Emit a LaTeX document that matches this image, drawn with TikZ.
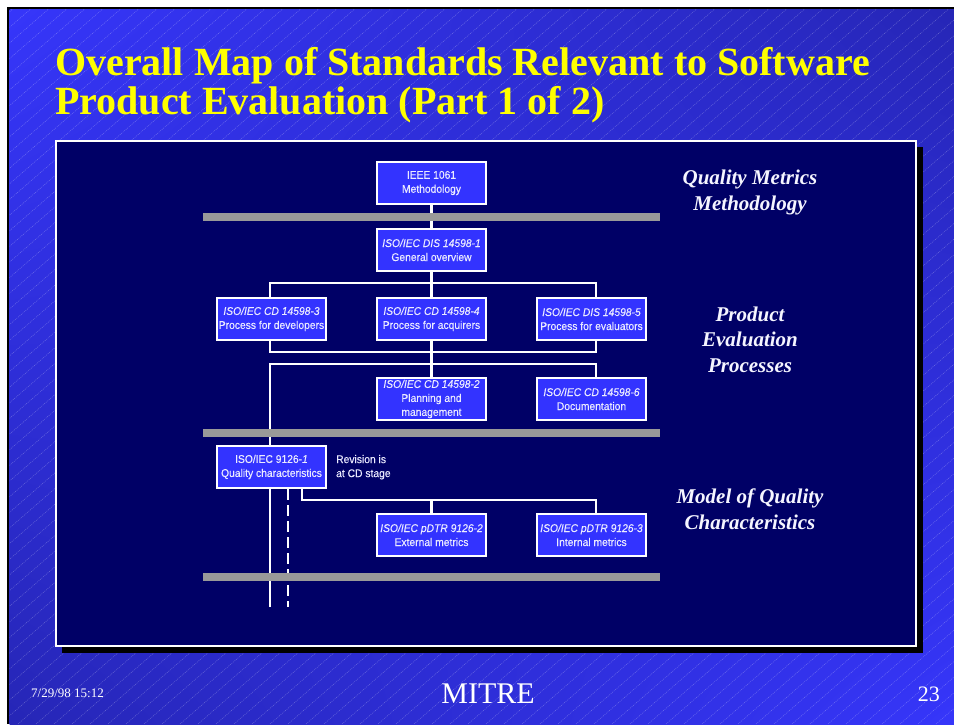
\documentclass[tikz,border=0pt]{standalone}
\usepackage{fontspec}
\setmainfont{Liberation Serif}
\setsansfont{Liberation Sans}
\newfontfamily\boxfont[FakeStretch=0.92, FakeBold=0.25]{Liberation Sans}
\usetikzlibrary{calc,shadings}

\pgfdeclarelayer{back}
\pgfdeclarelayer{wires}
\pgfsetlayers{back,wires,main}

\definecolor{slidenavy}{RGB}{0,0,102}
\definecolor{boxblue}{RGB}{51,51,255}
\definecolor{bargray}{RGB}{153,153,153}
\definecolor{boxtext}{RGB}{235,235,255}
\definecolor{labelwhite}{RGB}{245,245,255}
\definecolor{titleyellow}{RGB}{255,255,0}
\definecolor{bgbright}{RGB}{54,54,250}
\definecolor{bgdark}{RGB}{38,38,182}

\begin{document}
\begin{tikzpicture}[x=1pt, y=-1pt,
	stdbox/.style={draw=white, line width=1.6pt, fill=boxblue, text=boxtext, inner sep=0pt,
		minimum width=109.5pt, minimum height=42.5pt, align=center,
		font=\boxfont\fontsize{11.2}{14}\selectfont},
	note/.style={text=boxtext, align=left, inner sep=0pt, font=\boxfont\fontsize{11.2}{14}\selectfont},
	link/.style={draw=white, line width=2.6pt},
	bar/.style={fill=bargray},
	title/.style={text=titleyellow, inner sep=0pt, font=\bfseries\fontsize{40}{40}\selectfont},
	level/.style={text=labelwhite, align=center, inner sep=0pt, font=\bfseries\itshape\fontsize{21}{25.5}\selectfont},
	foot/.style={text=white, inner sep=0pt},
	hatch/.style={white, opacity=0.3, line width=0.45pt, dash pattern=on 1pt off 1pt}]

	\useasboundingbox (0,0) rectangle (954,724);

	% slide
	\begin{pgfonlayer}{back}
		\fill[white] (0,0) rectangle (954,724);
		\fill[black] (7,7) rectangle (954,724);
		\shade[upper left=bgbright, upper right=bgdark, lower left=bgdark, lower right=bgbright]
		(9.5,9.5) rectangle (954,724);
		\begin{scope}
			\clip (9.5,9.5) rectangle (954,724);
			\foreach \k in {-47,...,53}
				\draw[hatch] (\k*18,724) -- ++(833,-724);
		\end{scope}
		\fill[black] (62,147) rectangle (923,653);
		\fill[slidenavy, draw=white, line width=1.5pt] (56,141) rectangle (916,646);
	\end{pgfonlayer}

	\node[title, anchor=base west] (title) at (55,75) {Overall Map of Standards Relevant to Software};
	\node[title, anchor=base west] (subtitle) at (55,114) {Product Evaluation (Part 1 of 2)};

	\node[stdbox] (ieee) at (431.5,183) {IEEE 1061\\Methodology};
	\node[stdbox] (iso1) at (431.5,250) {\textit{ISO/IEC DIS 14598-1}\\General overview};
	\node[stdbox] (iso3) at (271.5,319) {\textit{ISO/IEC CD 14598-3}\\Process for developers};
	\node[stdbox] (iso4) at (431.5,319) {\textit{ISO/IEC CD 14598-4}\\Process for acquirers};
	\node[stdbox] (iso5) at (591.5,319) {\textit{ISO/IEC DIS 14598-5}\\Process for evaluators};
	\node[stdbox] (iso2) at (431.5,399) {\textit{ISO/IEC CD 14598-2}\\Planning and\\management};
	\node[stdbox] (iso6) at (591.5,399) {\textit{ISO/IEC CD 14598-6}\\Documentation};
	\node[stdbox] (q1) at (271.5,467) {ISO/IEC 9126-\textit{1}\\Quality characteristics};
	\node[stdbox] (q2) at (431.5,535) {\textit{ISO/IEC pDTR 9126-2}\\External metrics};
	\node[stdbox] (q3) at (591.5,535) {\textit{ISO/IEC pDTR 9126-3}\\Internal metrics};
	\node[note, anchor=west] (rev) at (336,467.2) {Revision is\\at CD stage};

	\node[level] (lvlA) at (750,192.7) {Quality Metrics\\Methodology};
	\node[level] (lvlB) at (750,339.4) {Product\\Evaluation\\Processes};
	\node[level] (lvlC) at (750,509.4) {Model of Quality\\Characteristics};

	\node[foot, anchor=base west, font=\fontsize{13}{13}\selectfont] (date) at (31,697) {7/29/98 15:12};
	\node[foot, anchor=base, font=\fontsize{30}{30}\selectfont] (mitre) at (488,703) {MITRE};
	\node[foot, anchor=base east, font=\fontsize{22}{22}\selectfont] (page) at (940,701) {23};

	\begin{pgfonlayer}{wires}
		\coordinate (endA) at (270,607);
		\coordinate (endB) at (288,607);

		\draw[link] (ieee) -- (iso1);
		\draw[link] (iso1) -- (iso4);
		\draw[link] ([xshift=-1.5pt]iso3.north) -- ++(0,-14) -| ([xshift=4.5pt]iso5.north);
		\draw[link] ([xshift=-1.5pt]iso3.south) -- ++(0,11) -| ([xshift=4.5pt]iso5.south);
		\draw[link] (iso4) -- (iso2);
		\draw[link] (endA) -- ++(0,-243) -| ([xshift=4.5pt]iso6.north);
		\draw[link] ([xshift=30.5pt]q1.south) -- ++(0,11) -| ([xshift=4.5pt]q3.north);
		\draw[link] (q2.north) -- ++(0,-13);
		\draw[link, dash pattern=on 11pt off 5pt] ([xshift=16.5pt]q1.south) -- (endB);

		% level bars
		\fill[bar] (203,213) rectangle (660,221);
		\fill[bar] (203,429) rectangle (660,437);
		\fill[bar] (203,573) rectangle (660,581);
	\end{pgfonlayer}
\end{tikzpicture}
\end{document}
